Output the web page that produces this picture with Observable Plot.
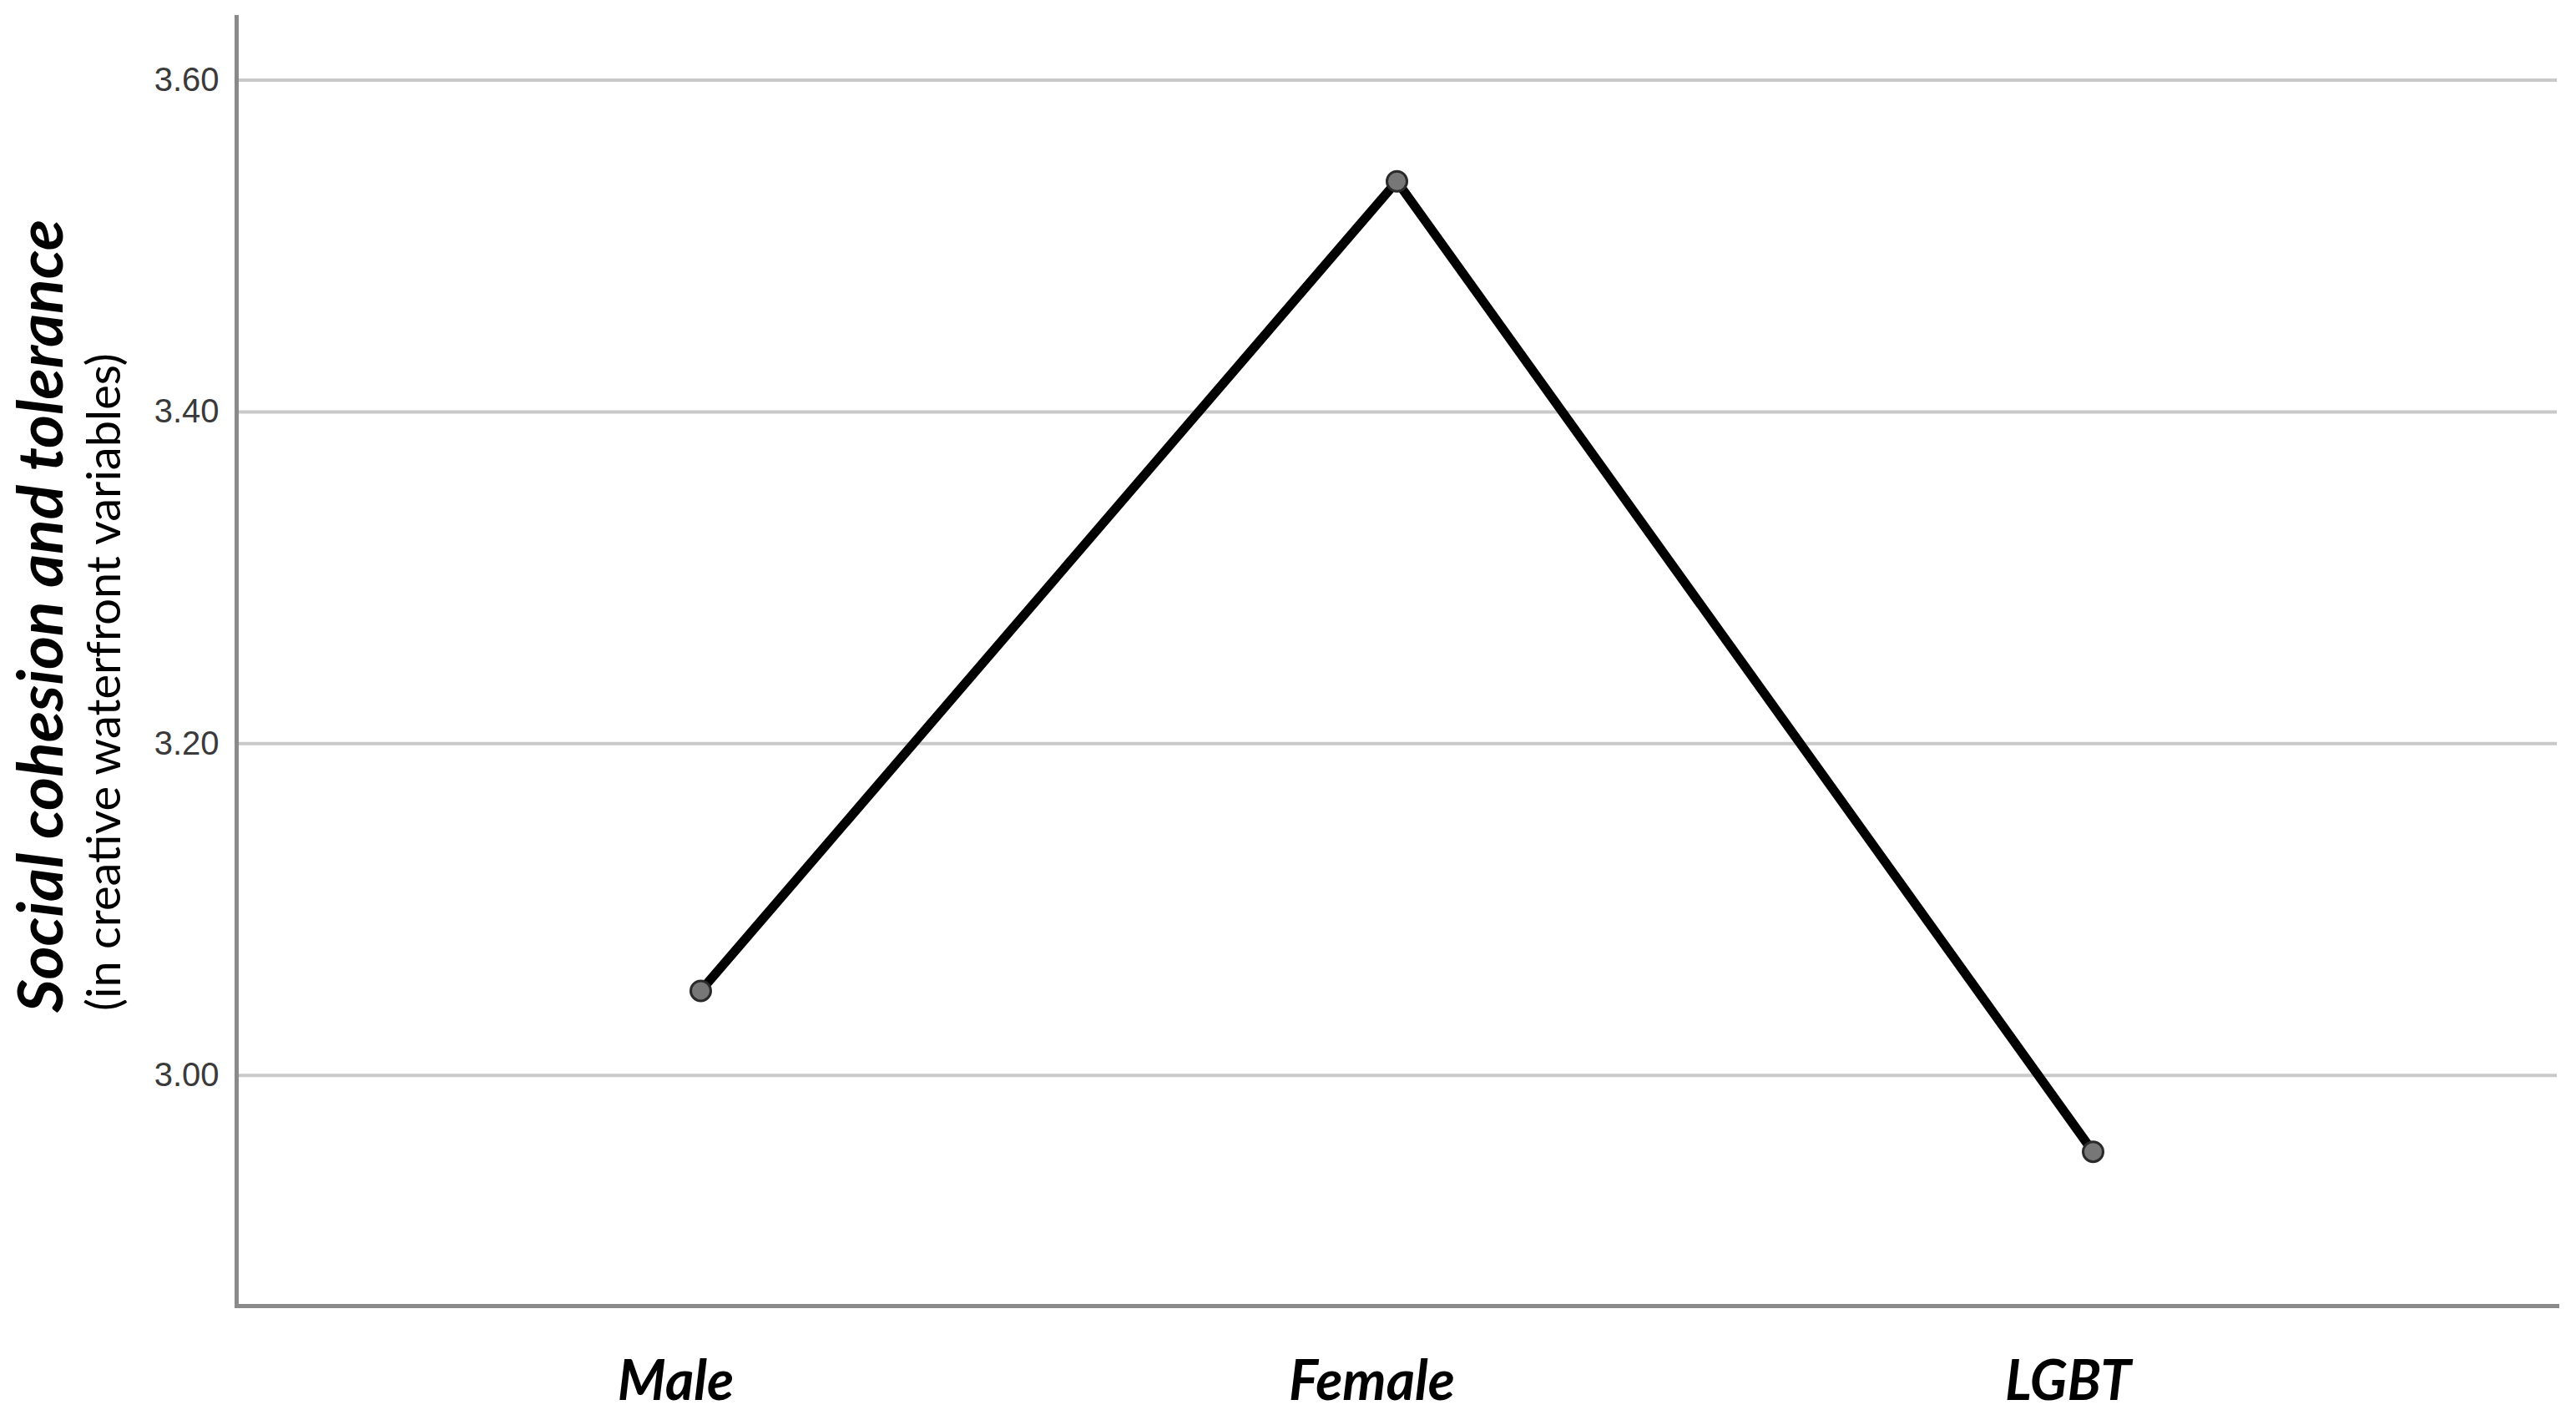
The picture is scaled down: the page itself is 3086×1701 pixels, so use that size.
<!DOCTYPE html>
<html>
<head>
<meta charset="utf-8">
<script src="https://cdn.jsdelivr.net/npm/d3@7"></script>
<script src="https://cdn.jsdelivr.net/npm/@observablehq/plot@0.6"></script>
<style>
  html, body { margin: 0; padding: 0; background: #fff; }
  #chart svg { display: block; }
</style>
</head>
<body>
<div id="chart"></div>
<script>
const categories = ["Male", "Female", "LGBT"];
const values = [3.051, 3.539, 2.954];
const yTicks = [3.00, 3.20, 3.40, 3.60];
const yTitle = "Social cohesion and tolerance";
const ySubtitle = "(in creative waterfront variables)";

const data = categories.map((c, i) => ({category: c, value: values[i]}));

const W = 3086, H = 1701;
const mLeft = 283, mRight = 23, mTop = 20, mBottom = 137;

const chart = Plot.plot({
  width: W,
  height: H,
  marginLeft: mLeft,
  marginRight: mRight,
  marginTop: mTop,
  marginBottom: mBottom,
  style: {background: "#fff"},
  x: {type: "point", domain: categories, padding: 2/3},
  y: {domain: [2.861, 3.638]},
  marks: [
    Plot.ruleY(yTicks, {stroke: "#c9c9c9", strokeWidth: 4}),
    Plot.frame({anchor: "left", stroke: "#8a8a8a", strokeWidth: 5}),
    Plot.frame({anchor: "bottom", stroke: "#8a8a8a", strokeWidth: 5}),
    Plot.axisY({
      ticks: yTicks, tickFormat: d3.format(".2f"), tickSize: 0, tickPadding: 21,
      fontSize: 40, fontFamily: "Liberation Sans, Arial, sans-serif", fill: "#3a3a3a", label: null
    }),
    Plot.axisX({
      tickSize: 0, tickPadding: 66, dx: -30, fontSize: 66, fontFamily: "Lato, sans-serif",
      fontStyle: "italic", fontWeight: "bold", fill: "#000", label: null
    }),
    Plot.line(data, {x: "category", y: "value", stroke: "#000", strokeWidth: 11}),
    Plot.dot(data, {x: "category", y: "value", r: 12, fill: "#777", stroke: "#2a2a2a", strokeWidth: 3})
  ]
});

const svg = d3.select(chart);
svg.append("text")
  .attr("transform", "translate(75,1213) rotate(-90)")
  .attr("text-anchor", "start")
  .attr("font-family", "Lato, sans-serif")
  .attr("font-style", "italic")
  .attr("font-weight", "bold")
  .attr("font-size", 74)
  .attr("textLength", 950)
  .attr("lengthAdjust", "spacingAndGlyphs")
  .attr("fill", "#000")
  .text(yTitle);
svg.append("text")
  .attr("transform", "translate(144,1211) rotate(-90)")
  .attr("text-anchor", "start")
  .attr("font-family", "Lato, sans-serif")
  .attr("font-size", 56)
  .attr("fill", "#000")
  .text(ySubtitle);

document.getElementById("chart").appendChild(chart);
</script>
</body>
</html>
